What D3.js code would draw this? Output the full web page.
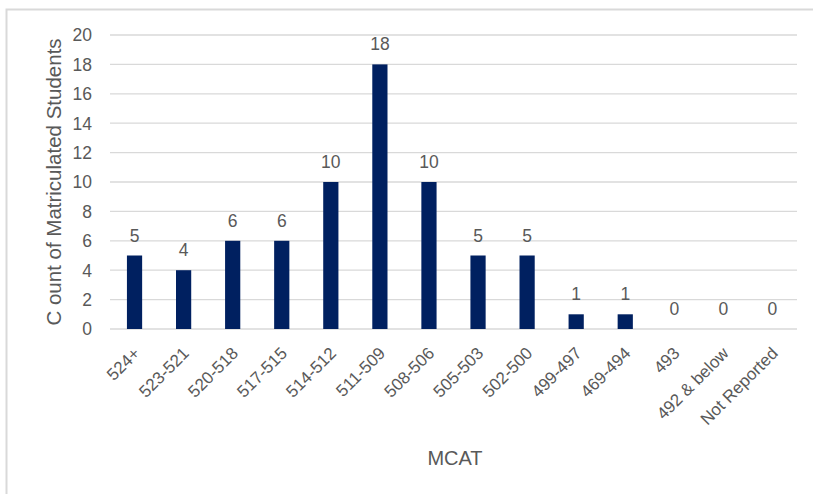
<!DOCTYPE html>
<html><head><meta charset="utf-8">
<script src="https://cdn.jsdelivr.net/npm/d3@7"></script>
<style>body{margin:0;background:#fff}svg{display:block}text{font-family:"Liberation Sans",Arial,sans-serif;fill:#595959}</style>
</head><body><svg id="c" width="813" height="494"></svg>
<script>
const categories=["524+","523-521","520-518","517-515","514-512","511-509","508-506","505-503","502-500","499-497","469-494","493","492 & below","Not Reported"];
const counts=[5,4,6,6,10,18,10,5,5,1,1,0,0,0];
const yTicks=[0,2,4,6,8,10,12,14,16,18,20];

const svg=d3.select("#c");
svg.append("path").attr("d","M6.5,494V9.5H813").attr("fill","none").attr("stroke","#d9d9d9").attr("stroke-width",2);
const m={l:110,r:797,t:35,b:329};
const x=d3.scaleBand().domain(categories).range([m.l,m.r]).paddingInner(0.69).paddingOuter(0.345);
const y=d3.scaleLinear().domain([0,20]).range([m.b,m.t]);
const g=svg.append("g");
g.selectAll("line.grid").data(yTicks).join("line").attr("x1",m.l).attr("x2",m.r)
 .attr("y1",d=>y(d)).attr("y2",d=>y(d)).attr("stroke","#d9d9d9").attr("stroke-width",1.3);
g.selectAll("text.yt").data(yTicks).join("text").attr("x",92).attr("y",d=>y(d)).attr("dy","0.36em")
 .attr("text-anchor","end").attr("font-size",17.5).text(d=>d);
g.selectAll("rect").data(counts).join("rect").attr("x",(d,i)=>x(categories[i])).attr("width",x.bandwidth())
 .attr("y",d=>y(d)).attr("height",d=>y(0)-y(d)).attr("fill","#002060");
g.selectAll("text.lbl").data(counts).join("text").attr("x",(d,i)=>x(categories[i])+x.bandwidth()/2)
 .attr("y",d=>y(d)-14).attr("text-anchor","middle").attr("font-size",17.5).text(d=>d);
g.selectAll("text.xt").data(categories).join("text")
 .attr("transform",d=>`translate(${x(d)+x.bandwidth()/2-2},${m.b+17}) rotate(-45)`)
 .attr("text-anchor","end").attr("dy","0.7em").attr("font-size",17).text(d=>d);
svg.append("text").attr("transform",`translate(61,182) rotate(-90)`).attr("text-anchor","middle")
 .attr("font-size",20.5).text("C ount of Matriculated Students");
svg.append("text").attr("x",455).attr("y",465).attr("text-anchor","middle").attr("font-size",20).text("MCAT");
</script></body></html>
